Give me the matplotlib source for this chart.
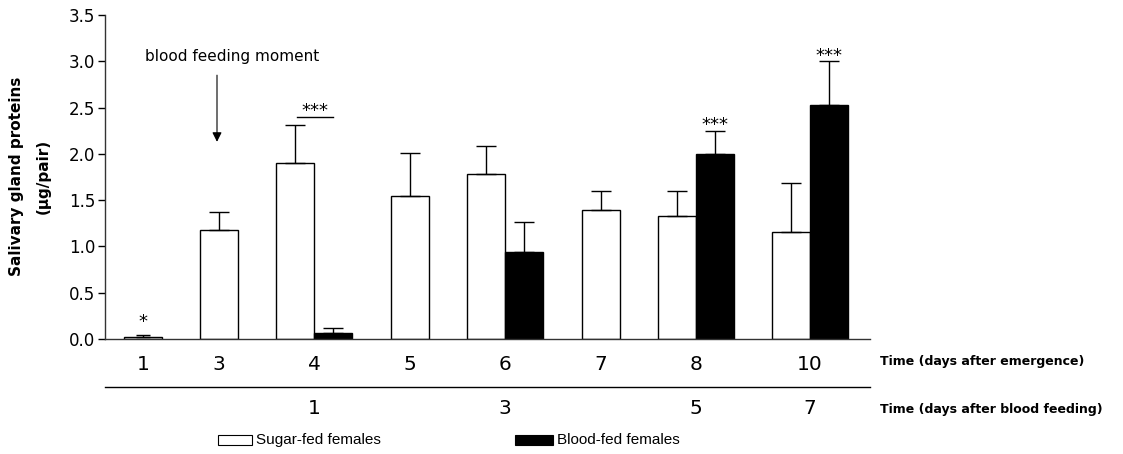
import matplotlib
matplotlib.use("Agg")
import matplotlib.pyplot as plt
from matplotlib.patches import Rectangle
from matplotlib.lines import Line2D

plt.rcParams['font.family'] = ['DejaVu Sans']

# ---- data ----
days_emergence = ["1", "3", "4", "5", "6", "7", "8", "10"]
days_blood = ["", "", "1", "", "3", "", "5", "7"]
sugar_mean = [0.025, 1.18, 1.90, 1.54, 1.78, 1.39, 1.33, 1.16]
sugar_err = [0.015, 0.19, 0.41, 0.47, 0.31, 0.21, 0.27, 0.53]
blood_mean = [None, None, 0.06, None, 0.94, None, 2.00, 2.53]
blood_err = [None, None, 0.055, None, 0.32, None, 0.25, 0.47]
sugar_sig = ["*", "", "", "", "", "", "", ""]
blood_sig = ["", "", "", "", "", "", "***", "***"]

# ---- layout ----
W, H = 1123, 454
fig = plt.figure(figsize=(W / 100, H / 100), dpi=100)
ax_l, ax_r, ax_t, ax_b = 105, 870, 15, 339
ax = fig.add_axes([ax_l / W, 1 - ax_b / H, (ax_r - ax_l) / W, (ax_b - ax_t) / H])
group_x = [143, 219, 314, 410, 505, 601, 696, 810]
bw = 38
ax.set_xlim(ax_l, ax_r)
ax.set_ylim(0, 3.5)
cap = 7.2

for i, gx in enumerate(group_x):
    has_blood = blood_mean[i] is not None
    sx = gx - bw / 2 if has_blood else gx
    ax.bar(sx, sugar_mean[i], width=bw, color='white', edgecolor='black', linewidth=1.0, zorder=2)
    ax.errorbar(sx, sugar_mean[i], yerr=[[0], [sugar_err[i]]], fmt='none', ecolor='black',
                elinewidth=1.0, capsize=cap if i else 5, capthick=1.0, zorder=3)
    if sugar_sig[i]:
        ax.text(sx, sugar_mean[i] + sugar_err[i] + 0.09, sugar_sig[i], ha='center',
                va='baseline', fontsize=13)
    if has_blood:
        bx = gx + bw / 2
        ax.bar(bx, blood_mean[i], width=bw, color='black', edgecolor='black', linewidth=1.0, zorder=2)
        ax.errorbar(bx, blood_mean[i], yerr=[[0], [blood_err[i]]], fmt='none', ecolor='black',
                    elinewidth=1.0, capsize=cap, capthick=1.0, zorder=3)
        if blood_sig[i]:
            ax.text(bx, blood_mean[i] + blood_err[i] + 0.005, blood_sig[i], ha='center',
                    va='baseline', fontsize=13)

# significance bracket at day 4
gx = group_x[2]
ax.plot([gx - 17, gx + 19], [2.40, 2.40], color='black', lw=1.0)
ax.text(gx + 1, 2.405, "***", ha='center', va='baseline', fontsize=13)

# annotation arrow
ax.annotate("", xy=(group_x[1] - 2, 2.10), xytext=(group_x[1] - 2, 2.88),
            arrowprops=dict(arrowstyle='-|>', color='black', lw=0.8, mutation_scale=14))
ax.text(232, 3.0, "blood feeding moment", ha='center', va='baseline', fontsize=11)

# axes styling
for s in ['top', 'right']:
    ax.spines[s].set_visible(False)
for s in ['left', 'bottom']:
    ax.spines[s].set_linewidth(1.0)
    ax.spines[s].set_color('#333333')
yt = [0, 0.5, 1.0, 1.5, 2.0, 2.5, 3.0, 3.5]
ax.set_yticks(yt)
ax.set_yticklabels([f"{v:.1f}" for v in yt])
ax.tick_params(axis='y', direction='out', length=5, width=1, labelsize=12, pad=2)
ax.set_xticks([])

fig.text(30 / W, 1 - 176 / H, "Salivary gland proteins\n(\u00b5g/pair)", rotation=90,
         ha='center', va='center', multialignment='center', fontsize=11,
         fontweight='bold', linespacing=2.0)

# bottom labels
def fy(py):
    return 1 - py / H

for gx, lab in zip(group_x, days_emergence):
    fig.text(gx / W, fy(365), lab, ha='center', va='center', fontsize=14.5)
for gx, lab in zip(group_x, days_blood):
    if lab:
        fig.text(gx / W, fy(408), lab, ha='center', va='center', fontsize=14.5)
fig.add_artist(Line2D([ax_l / W, ax_r / W], [fy(387), fy(387)], color='black', lw=1.0))
fig.text(880 / W, fy(361), "Time (days after emergence)", ha='left', va='center',
         fontsize=9, fontweight='bold')
fig.text(880 / W, fy(410), "Time (days after blood feeding)", ha='left', va='center',
         fontsize=9, fontweight='bold')

# legend (manual)
fig.add_artist(Rectangle((218 / W, fy(445)), 34 / W, 10 / H, facecolor='white',
                         edgecolor='black', lw=0.8))
fig.text(256 / W, fy(440), "Sugar-fed females", ha='left', va='center', fontsize=11,
         family='Liberation Sans')
fig.add_artist(Rectangle((515 / W, fy(445)), 38 / W, 10 / H, facecolor='black',
                         edgecolor='black', lw=0.8))
fig.text(557 / W, fy(440), "Blood-fed females", ha='left', va='center', fontsize=11,
         family='Liberation Sans')

fig.savefig("out.png", dpi=100)
